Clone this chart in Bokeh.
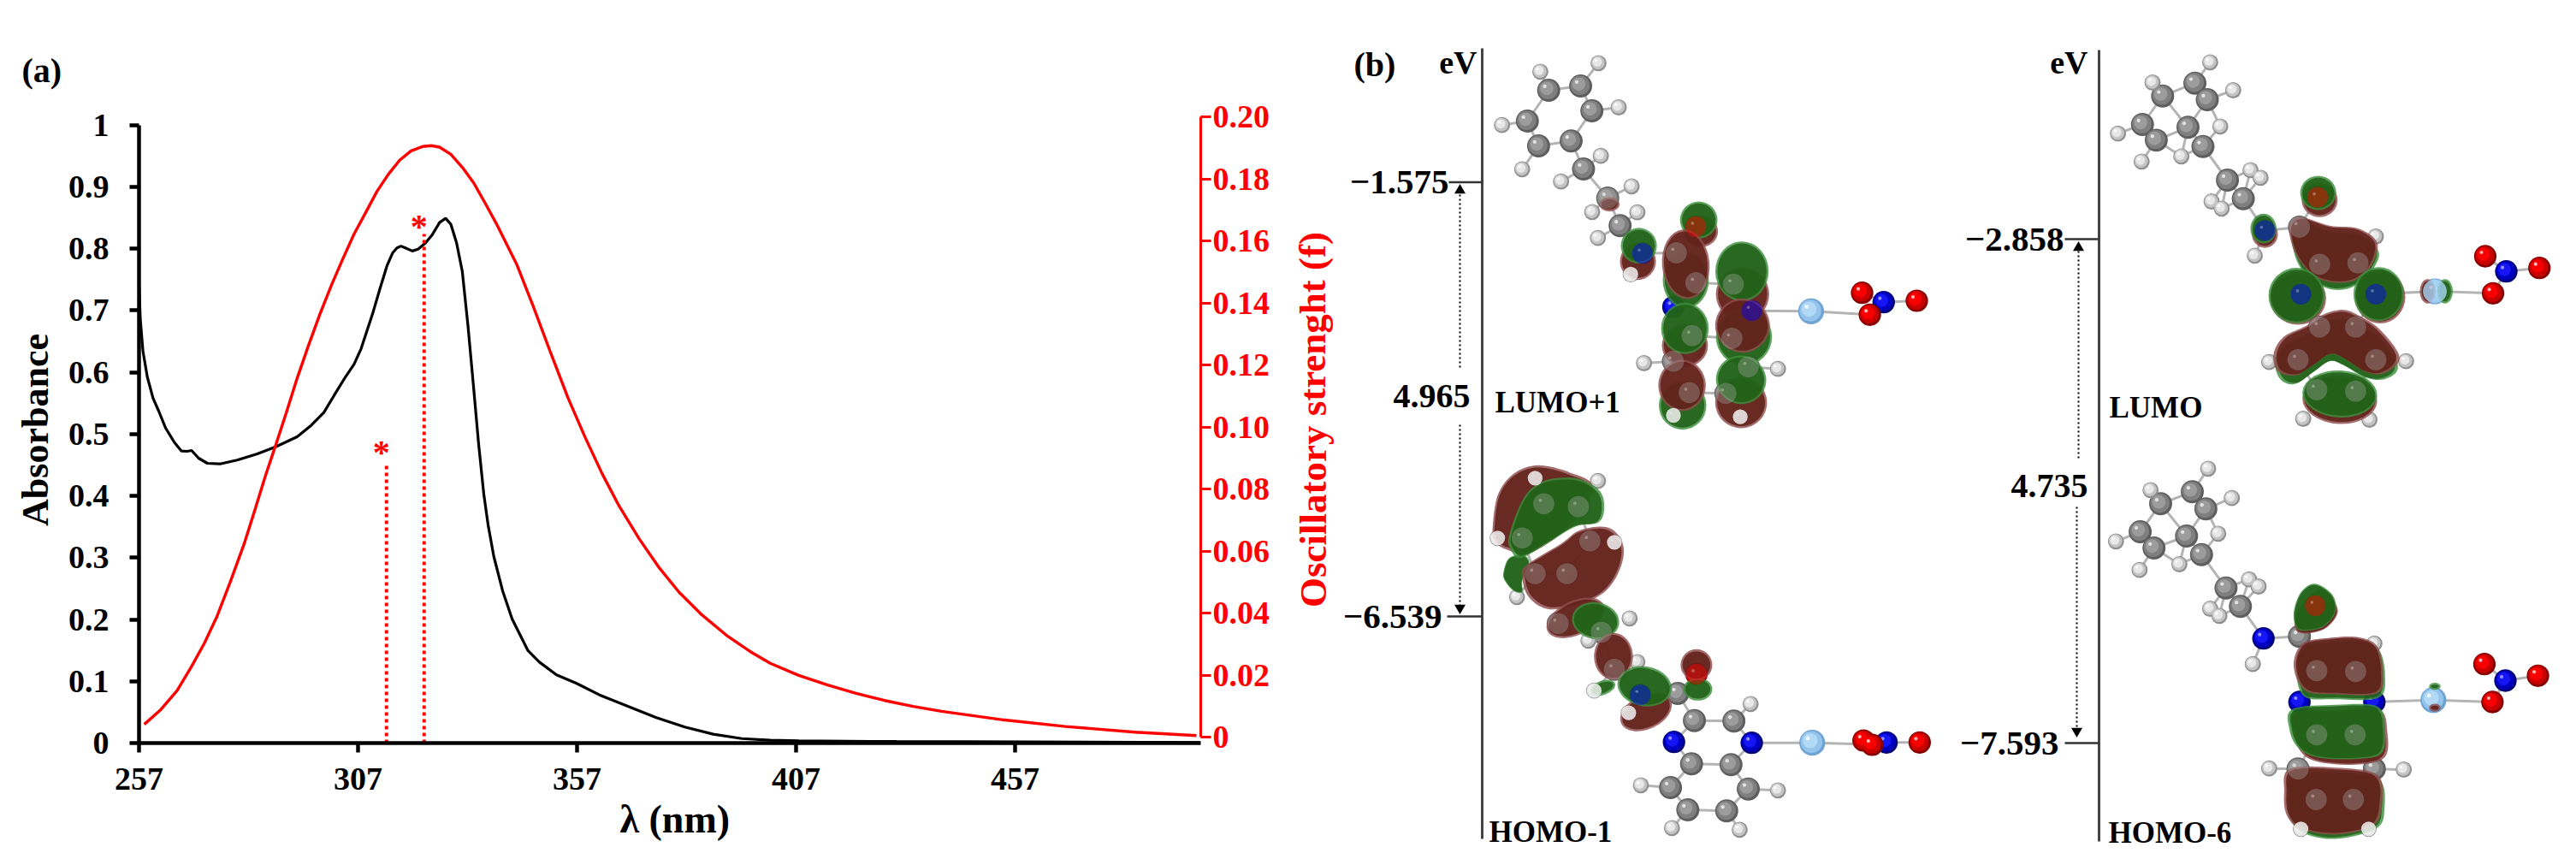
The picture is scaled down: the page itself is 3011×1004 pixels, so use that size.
import math
from bokeh.embed import file_html
from bokeh.resources import INLINE
from bokeh.plotting import figure
from bokeh.layouts import row, column
from bokeh.models import Range1d, LinearAxis, FixedTicker, Title
from bokeh.core.properties import value

# ---------- panel (a) data ----------
LAMBDA_ABS = [257,257.3,257.9,258.9,260.2,261.5,263.1,265.1,266.7,268,269,270.6,272.6,275.5,279.4,284,288.2,293.1,296.3,
              299.2,301.5,304.1,306.1,307.7,309,310.3,312,313.6,314.9,315.9,316.8,317.8,319.4,320.7,322.4,
              324,325.6,327,328.2,329.5,330.8,332.1,333.4,334.5,335.7,336.7,338,340,342.2,345.8,348.4,352.3,356.9,362.1,
              368.6,375.1,381.6,388.1,394.6,401.1,407.6,430,460,499.3]
ABSORBANCE = [.74,.685,.634,.592,.558,.537,.5093,.4862,.4724,.472,.4733,.4609,.4526,.4516,.4577,.4678,.4793,.4955,.5139,
              .5347,.562,.592,.613,.638,.666,.694,.735,.772,.793,.801,.804,.801,.796,.799,.809,
              .823,.842,.849,.839,.809,.763,.675,.574,.486,.4032,.3525,.3017,.2464,.2003,.1495,.131,.1103,.0965,.078,
              .0595,.0411,.0259,.0143,.0073,.0046,.0035,.0025,.002,.001]
LAMBDA_F = [258.2,261.8,265.7,269,271.9,274.8,277.8,281,283.6,285.9,288.2,290.6,293.1,295.7,298.3,300.9,303.5,306.1,308.7,311.3,
            313.9,316.5,319.1,321.7,323.7,325.6,328.2,330.8,333.4,336,338.6,343.2,347.1,351,354.9,358.8,362.7,366.6,371.2,
            375.8,380.3,385.5,391.4,396.5,401.1,407.6,414.2,420.7,427.2,433.7,440.2,454.6,468.5,484.4,498.4]
OSC_CURVE = [.0041,.0086,.015,.0228,.0302,.0389,.0499,.0623,.0739,.0844,.0941,.1045,.1157,.1263,.1364,.1456,.1541,.1622,.169,.1759,
             .1814,.186,.189,.1904,.1907,.1902,.1879,.1837,.1787,.1722,.1655,.1525,.1385,.1238,.1095,.0968,.085,.0745,.0639,
             .0545,.0467,.0394,.0325,.0276,.0238,.0199,.0168,.0141,.0118,.0099,.0083,.0055,.0034,.0016,.0005]
STICK_LAMBDA = [313.5, 322.1]
STICK_F = [.0881, .1622]
STAR_LAMBDA = [312.3, 320.9]
STAR_F = [.0982, .1708]
X_TICKS = [257, 307, 357, 407, 457]
Y_TICKS = [0, .1, .2, .3, .4, .5, .6, .7, .8, .9, 1]
F_TICKS = [0, .02, .04, .06, .08, .10, .12, .14, .16, .18, .20]
F_LABELS = {0: "0", .02: "0.02", .04: "0.04", .06: "0.06", .08: "0.08", .10: "0.10", .12: "0.12", .14: "0.14",
            .16: "0.16", .18: "0.18", .20: "0.20"}
Y_LABELS = {0: "0", .1: "0.1", .2: "0.2", .3: "0.3", .4: "0.4", .5: "0.5", .6: "0.6", .7: "0.7", .8: "0.8",
            .9: "0.9", 1: "1"}

LUMO1_C = [(207,135),(318,120),(357,207),(285,313),(172,330),(133,243),(328,411),(412,513),(455,610),(650,705),
           (718,810),(848,815),(705,995),(843,1005),(640,1085),(900,1105),(695,1195),(822,1198)]
LUMO1_H = [(380,40),(178,70),(450,195),(45,257),(115,412),(250,455),(388,365),(495,472),(358,562),(515,563),(378,653),
           (492,780),(538,1092),(1003,1112),(640,1275),(872,1280)]
LUMO1_N = [(533,707),(640,895),(912,908),(1370,878)]
LUMO1_O = [(718,613),(1295,845),(1322,922),(1485,873)]
LUMO1_AG = [(1118,910)]
LUMO1_WIRE = [(912,908),(1118,910),(1322,922)]
LUMO1_LOBES = [("g",683,800,160,200,0),("m",517,735,125,130,0),("g",520,680,125,125,0),("m",735,630,120,110,0),
               ("g",728,590,130,130,0),("m",683,745,165,245,5),("m",880,850,185,190,0),("g",878,770,185,210,0),
               ("m",680,1030,160,150,0),("g",680,970,165,180,0),("g",885,1000,195,200,0),("m",880,960,190,190,-10),
               ("g",672,1240,165,170,0),("m",670,1170,165,180,0),("m",875,1230,180,180,-10),("g",875,1150,175,170,-15),
               ("m",418,535,70,50,0)]

HOMO1_C = [(190,160),(310,170),(115,280),(350,290),(160,405),(270,405),(240,580),(390,610),(435,740),(655,825),
           (713,920),(850,922),(703,1072),(840,1075),(630,1155),(900,1160),(690,1233),(825,1237)]
HOMO1_H = [(160,70),(378,80),(30,280),(435,295),(97,487),(488,562),(345,640),(365,815),(515,715),(485,893),
           (908,862),(527,1147),(1003,1165),(635,1297),(870,1303)]
HOMO1_N = [(525,830),(642,995),(912,998),(1380,997)]
HOMO1_O = [(720,757),(1300,990),(1330,1005),(1495,997)]
HOMO1_AG = [(1122,998)]
HOMO1_WIRE = [(912,998),(1122,998),(1300,1003)]
HOMO1_LOBES = [("m",[(12,250),(30,130),(85,55),(170,25),(280,50),(360,100),(300,220),(150,330),(60,320),(20,290)]),
               ("g",[(50,400),(70,350),(120,340),(140,370),(115,430),(115,470),(85,465),(55,430)]),
               ("g",[(70,270),(120,140),(190,80),(300,70),(380,110),(400,170),(380,225),(300,240),(200,300),(110,350),(75,320)]),
               ("m",[(115,420),(130,375),(250,300),(310,255),(390,240),(440,260),(468,320),(450,400),(400,470),(320,510),(210,530),(140,490)]),
               ("m",300,560,215,120,25),("g",370,570,165,130,-10),("m",432,695,135,165,0),("g",395,805,90,50,20),
               ("m",545,890,190,120,25),("g",540,800,190,140,-10),("g",725,810,100,80,0),("m",720,725,110,110,0)]

LUMO_C = [(200,155),(312,110),(355,168),(288,265),(178,310),(130,255),(340,332),(425,450),(480,515),(675,615),
          (745,745),(878,740),(745,965),(870,965),(670,1080),(940,1080),(735,1185),(870,1190)]
LUMO_H = [(365,37),(165,108),(445,135),(45,287),(127,385),(265,367),(400,262),(505,415),(540,442),(370,525),(405,550),
          (520,715),(940,648),(570,1088),(1045,1085),(688,1287),(918,1290)]
LUMO_N = [(555,627),(680,850),(940,850),(1393,770)]
LUMO_O = [(738,510),(1320,717),(1347,847),(1508,758)]
LUMO_AG = [(1145,840)]
LUMO_WIRE = [(940,850),(1145,840),(1347,847)]
LUMO_LOBES = [("m",745,520,125,120,0),("g",740,495,125,120,0),("m",555,640,90,95,0),("g",550,620,90,105,0),
              ("g",[(650,640),(690,600),(780,630),(880,640),(950,700),(925,770),(870,820),(800,835),(730,810),(680,760),(655,700)]),
              ("m",[(640,610),(680,580),(780,610),(880,620),(945,670),(925,750),(870,800),(800,810),(730,790),(680,740),(650,680)]),
              ("m",670,865,195,185,0),("g",665,855,195,195,0),("m",955,860,175,185,0),("g",950,850,175,190,0),
              ("g",[(590,1090),(620,1030),(700,990),(760,950),(830,935),(890,960),(950,1000),(1010,1080),(1010,1125),(960,1150),(900,1140),(830,1100),(780,1085),(720,1125),(660,1165),(610,1150)]),
              ("m",[(585,1060),(620,1000),(700,960),(760,920),(830,905),(890,930),(950,970),(1015,1050),(1015,1095),(960,1130),(900,1120),(830,1075),(780,1060),(720,1100),(660,1135),(600,1120)]),
              ("m",815,1220,260,170,-3),("g",815,1200,260,165,-3),("m",1120,840,55,85,0),("g",1180,840,55,85,0)]

HOMO6_C = [(193,160),(303,118),(350,178),(283,273),(170,315),(122,258),(335,338),(420,455),(470,520),(675,625),
           (735,745),(870,748),(735,970),(868,970),(670,1090),(935,1090),(733,1197),(862,1197)]
HOMO6_H = [(358,37),(158,112),(440,140),(38,292),(120,392),(258,372),(393,265),(500,425),(533,450),(365,528),(397,553),
           (513,722),(935,650),(570,1088),(1037,1092),(680,1300),(915,1300)]
HOMO6_N = [(550,632),(675,855),(935,855),(1390,780)]
HOMO6_O = [(730,517),(1317,722),(1345,855),(1503,763)]
HOMO6_AG = [(1140,848)]
HOMO6_WIRE = [(935,855),(1140,848),(1345,855)]
HOMO6_LOBES = [("m",[(660,560),(700,490),(760,460),(805,520),(800,560),(760,600),(700,615),(665,605)]),
               ("g",[(655,540),(680,470),(730,440),(790,480),(800,540),(760,590),(700,605),(665,595)]),
               ("g",[(665,740),(690,660),(780,645),(880,640),(950,670),(972,760),(950,840),(800,845),(690,835)]),
               ("m",[(655,730),(685,650),(780,630),(880,628),(945,660),(965,750),(945,825),(800,828),(695,815)]),
               ("m",[(655,960),(660,890),(800,885),(950,880),(980,960),(970,1050),(870,1075),(740,1065),(680,1030)]),
               ("g",[(640,950),(650,880),(800,865),(945,870),(972,950),(960,1035),(870,1055),(740,1050),(670,1015)]),
               ("g",[(635,1180),(650,1110),(800,1100),(950,1125),(970,1230),(940,1300),(800,1335),(690,1315),(640,1260)]),
               ("m",[(622,1170),(640,1090),(800,1085),(945,1110),(962,1210),(930,1290),(800,1320),(680,1300),(630,1250)]),
               ("g",1145,800,40,25,0),("m",1145,875,40,28,0)]

MOLECULES = [((1740, 60), LUMO1_C, LUMO1_H, LUMO1_N, LUMO1_O, LUMO1_AG, LUMO1_WIRE, LUMO1_LOBES),
             ((1740, 535), HOMO1_C, HOMO1_H, HOMO1_N, HOMO1_O, HOMO1_AG, HOMO1_WIRE, HOMO1_LOBES),
             ((2460, 60), LUMO_C, LUMO_H, LUMO_N, LUMO_O, LUMO_AG, LUMO_WIRE, LUMO_LOBES),
             ((2460, 535), HOMO6_C, HOMO6_H, HOMO6_N, HOMO6_O, HOMO6_AG, HOMO6_WIRE, HOMO6_LOBES)]
CROP_SX = 1 / 2.97
CROP_SY = 1 / 3.0

ENERGY_TEXT = ["\u22121.575", "\u22126.539", "\u22122.858", "\u22127.593"]
ENERGY_TEXT_X = [1693, 1685, 2412, 2406]
ENERGY_Y = [212.6, 720, 279, 868]
ENERGY_X0 = [1693, 1691, 2413, 2413]
ENERGY_X1 = [1732, 1732, 2453, 2453]
GAP_TEXT = ["4.965", "4.735"]
GAP_X = [1718, 2440]
GAP_Y = [462, 567]
LEVEL_X = [1732, 2453]
LEVEL_TOP = [56, 58]
LEVEL_BOTTOM = [980, 983]
ARROW_X = [1706, 1706, 2429, 2427]
ARROW_A = [429, 496, 535, 592]
ARROW_B = [222, 710, 289, 854]
ARROW_UP = [True, False, True, False]
ORBITAL_NAMES = ["LUMO+1", "HOMO-1", "LUMO", "HOMO-6"]
ORBITAL_X = [1747, 1740, 2465, 2464]
ORBITAL_Y = [470, 972, 476, 973]

FONT = "Liberation Serif"
RED = "#ff0000"

# ---------- panel (a) ----------
PX_PER_NM = 5.12
PX_PER_A = 722.5
PX_PER_F = 3625.0
FRAME_L, FRAME_R, FRAME_T, FRAME_B = 162, 1403, 136, 868
x0 = 257
A_W, TOTAL_H = 1505, 1004
pa = figure(width=A_W, height=TOTAL_H, output_backend="svg", toolbar_location=None,
            x_range=Range1d(x0, x0 + (FRAME_R - FRAME_L) / PX_PER_NM),
            y_range=Range1d(0, (FRAME_B - FRAME_T) / PX_PER_A),
            x_axis_location="below", min_border_left=FRAME_L, min_border_top=FRAME_T,
            min_border_bottom=TOTAL_H - FRAME_B, min_border_right=A_W - FRAME_R)
F_OFFSET = 7.0
pa.extra_y_ranges = {"f": Range1d(-F_OFFSET / PX_PER_F, .2)}
pa.grid.visible = False
pa.outline_line_color = None

def style(ax, color, lw, tick, standoff):
    ax.axis_line_color = color
    ax.axis_line_width = lw
    ax.major_tick_line_color = color
    ax.major_tick_line_width = lw
    ax.major_tick_out = tick
    ax.major_tick_in = 0
    ax.minor_tick_line_color = None
    ax.major_label_standoff = standoff
    ax.major_label_text_font = FONT
    ax.major_label_text_font_style = "bold"
    ax.major_label_text_font_size = "38px"
    ax.major_label_text_color = color
    ax.axis_label_text_font = FONT
    ax.axis_label_text_font_style = "bold"
    ax.axis_label_text_color = color

ax_x = pa.xaxis[0]
ax_x.ticker = FixedTicker(ticks=X_TICKS)
style(ax_x, "#000000", 4.5, 11, 18)
ax_x.axis_label = "\u00a0\u03bb (nm)"
ax_x.axis_label_text_font_size = "46px"
ax_x.axis_label_standoff = 6
ax_y = pa.yaxis[0]
ax_y.ticker = FixedTicker(ticks=Y_TICKS)
ax_y.major_label_overrides = Y_LABELS
ax_y.bounds = (0, 1)
style(ax_y, "#000000", 4.5, 11, 24)
ax_y.axis_label = "Absorbance"
ax_y.axis_label_text_font_size = "44px"
ax_y.axis_label_standoff = 11
ax_f = LinearAxis(y_range_name="f", ticker=FixedTicker(ticks=F_TICKS), major_label_overrides=F_LABELS, bounds=(0, .2))
style(ax_f, RED, 3, 12, 2)
pa.add_layout(ax_f, "right")
pa.add_layout(Title(text="(a)", text_font=FONT, text_font_style="bold", text_font_size="40px", text_color="#000000",
                    align="left", offset=-137, standoff=63), "above")

pa.line(LAMBDA_ABS, ABSORBANCE, line_color="#000000", line_width=3.2)
pa.line(LAMBDA_F, OSC_CURVE, line_color=RED, line_width=3.4, y_range_name="f")
pa.segment(STICK_LAMBDA, [-F_OFFSET / PX_PER_F] * 2, STICK_LAMBDA, STICK_F, line_color=RED, line_width=4,
           line_dash="4 4", y_range_name="f")
pa.text(STAR_LAMBDA, STAR_F, text=["*", "*"], text_color=RED, text_font=value(FONT),
        text_font_style="bold", text_font_size="40px", text_align="center", text_baseline="top", y_range_name="f")

# ---------- panel (b) ----------
pb = figure(width=3011 - A_W, height=TOTAL_H, output_backend="svg", toolbar_location=None, x_axis_type=None, y_axis_type=None,
            x_range=Range1d(A_W, 3011), y_range=Range1d(TOTAL_H, 0), min_border=0)
pb.grid.visible = False
pb.outline_line_color = None

pb.text([1534], [490], text=["Oscillatory strenght (f)"], angle=[math.pi / 2], text_color=RED, text_font=value(FONT),
        text_font_style="bold", text_font_size="45px", text_align="center", text_baseline="middle")

SHADES = {"C": ["#5e5e5e", "#7f7f7f", "#9c9c9c", "#e2e2e2"], "H": ["#8f8f8f", "#c4c4c4", "#e8e8e8", "#ffffff"],
          "N": ["#00007a", "#0000c0", "#1515f5", "#9090ff"], "O": ["#860000", "#c80000", "#f80000", "#ffb4b4"],
          "A": ["#6fa3d4", "#94c4ec", "#b2d9f6", "#ecf7ff"]}
RADIUS = {"C": 40, "H": 28, "N": 39, "O": 39, "A": 45}
OVERLAY = {"C": ("#aaaaaa", .36), "H": ("#f2f2f2", .85), "N": ("#0000ff", .45), "O": ("#ff0000", .45), "A": ("#a8d4f6", .8)}
LOBE = {"m": ("#8e4c4c", "#5a1a12"), "g": ("#3c8e3c", "#1c5a10")}

def smooth(pts):
    out, n = [], len(pts)
    for i in range(n):
        p0, p1, p2, p3 = pts[i - 1], pts[i], pts[(i + 1) % n], pts[(i + 2) % n]
        for k in range(8):
            t = k / 8
            out.append(tuple(.5 * (2 * p1[j] + (p2[j] - p0[j]) * t + (2 * p0[j] - 5 * p1[j] + 4 * p2[j] - p3[j]) * t ** 2
                                   + (3 * p1[j] - p0[j] - 3 * p2[j] + p3[j]) * t ** 3) for j in (0, 1)))
    return out

def inside(x, y, lobe):
    if len(lobe) == 6:
        _, cx, cy, w, h, ang = lobe
        a = math.radians(ang)
        dx, dy = x - cx, -(y - cy)
        u = dx * math.cos(a) + dy * math.sin(a)
        v = -dx * math.sin(a) + dy * math.cos(a)
        return (u / (w / 2)) ** 2 + (v / (h / 2)) ** 2 < .9
    pts, hit = lobe[1], False
    for i in range(len(pts)):
        (x1, y1), (x2, y2) = pts[i - 1], pts[i]
        if (y1 > y) != (y2 > y) and x < x1 + (y - y1) * (x2 - x1) / (y2 - y1):
            hit = not hit
    return hit

def draw_molecule(origin, C, H, N, O, AG, wire, lobes):
    ox, oy = origin
    X = lambda v: ox + v * CROP_SX
    Y = lambda v: oy + v * CROP_SY
    heavy = [("C", a) for a in C] + [("N", a) for a in N] + [("O", a) for a in O]
    xs0, ys0, xs1, ys1 = [], [], [], []
    for i, (ti, a) in enumerate(heavy):
        for tj, b in heavy[i + 1:]:
            if ti == "O" and tj == "O":
                continue
            if math.dist(a, b) < 150:
                xs0.append(X(a[0])); ys0.append(Y(a[1])); xs1.append(X(b[0])); ys1.append(Y(b[1]))
        for b in H:
            if math.dist(a, b) < 105:
                xs0.append(X(a[0])); ys0.append(Y(a[1])); xs1.append(X(b[0])); ys1.append(Y(b[1]))
    pb.segment(xs0, ys0, xs1, ys1, line_color="#b4b4b4", line_width=3)
    pb.line([X(p[0]) for p in wire], [Y(p[1]) for p in wire], line_color="#b4b4b4", line_width=3)
    atoms = [("H", a) for a in H] + heavy + [("A", a) for a in AG]
    for t in SHADES:
        pts = [a for tt, a in atoms if tt == t]
        r = RADIUS[t] * CROP_SX
        for shade, f, off in zip(SHADES[t], (1, .84, .58, .16), (0, -.06, -.16, -.34)):
            pb.circle([X(a[0]) + off * r for a in pts], [Y(a[1]) + off * r for a in pts], radius=f * r,
                      fill_color=shade, line_color=None)
    for lobe in lobes:
        rim, core = LOBE[lobe[0]]
        if len(lobe) == 6:
            _, cx, cy, w, h, ang = lobe
            pb.ellipse([X(cx)], [Y(cy)], width=[w * CROP_SX], height=[h * CROP_SY], angle=[math.radians(ang)],
                       fill_color=rim, fill_alpha=.82, line_color=None)
            pb.ellipse([X(cx)], [Y(cy)], width=[(w - 14) * CROP_SX], height=[(h - 14) * CROP_SY], angle=[math.radians(ang)],
                       fill_color=core, fill_alpha=.8, line_color=None)
        else:
            pts = smooth(lobe[1])
            mx = sum(p[0] for p in pts) / len(pts)
            my = sum(p[1] for p in pts) / len(pts)
            pb.patch([X(p[0]) for p in pts], [Y(p[1]) for p in pts], fill_color=rim, fill_alpha=.82, line_color=None)
            pb.patch([X(mx + (p[0] - mx) * .95) for p in pts], [Y(my + (p[1] - my) * .95) for p in pts],
                     fill_color=core, fill_alpha=.8, line_color=None)
    for t, a in atoms:
        if any(inside(a[0], a[1], l) for l in lobes):
            col, al = OVERLAY[t]
            r = RADIUS[t] * CROP_SX
            pb.circle([X(a[0])], [Y(a[1])], radius=r * .92, fill_color=col, fill_alpha=al, line_color=None)
            pb.circle([X(a[0]) - .3 * r], [Y(a[1]) - .3 * r], radius=r * .14, fill_color="#ffffff", fill_alpha=.3, line_color=None)

for m in MOLECULES:
    draw_molecule(*m)

pb.segment(LEVEL_X, LEVEL_TOP, LEVEL_X, LEVEL_BOTTOM, line_color="#444444", line_width=3)
pb.segment(ENERGY_X0, ENERGY_Y, ENERGY_X1, ENERGY_Y, line_color="#333333", line_width=2.5)
pb.segment(ARROW_X, ARROW_A, ARROW_X, ARROW_B, line_color="#000000", line_width=2, line_dash="2 3")
pb.scatter([x for x, u in zip(ARROW_X, ARROW_UP) if u], [y for y, u in zip(ARROW_B, ARROW_UP) if u],
           marker="triangle", size=13, fill_color="#000000", line_color=None)
pb.scatter([x for x, u in zip(ARROW_X, ARROW_UP) if not u], [y for y, u in zip(ARROW_B, ARROW_UP) if not u],
           marker="inverted_triangle", size=13, fill_color="#000000", line_color=None)

def b_text(xs, ys, texts, size, align):
    pb.text(xs, ys, text=texts, text_font=value(FONT), text_font_style="bold", text_font_size=size,
            text_align=align, text_baseline="middle", text_color="#000000")

b_text(ENERGY_TEXT_X, ENERGY_Y, ENERGY_TEXT, "41px", "right")
b_text(GAP_X, GAP_Y, GAP_TEXT, "40px", "right")
b_text(ORBITAL_X, ORBITAL_Y, ORBITAL_NAMES, "35px", "left")
b_text([1726, 2440], [72, 72], ["eV", "eV"], "38px", "right")
b_text([1582], [75], ["(b)"], "40px", "left")

open("out.html", "w").write(file_html(row(column(pa), column(pb)), INLINE))
